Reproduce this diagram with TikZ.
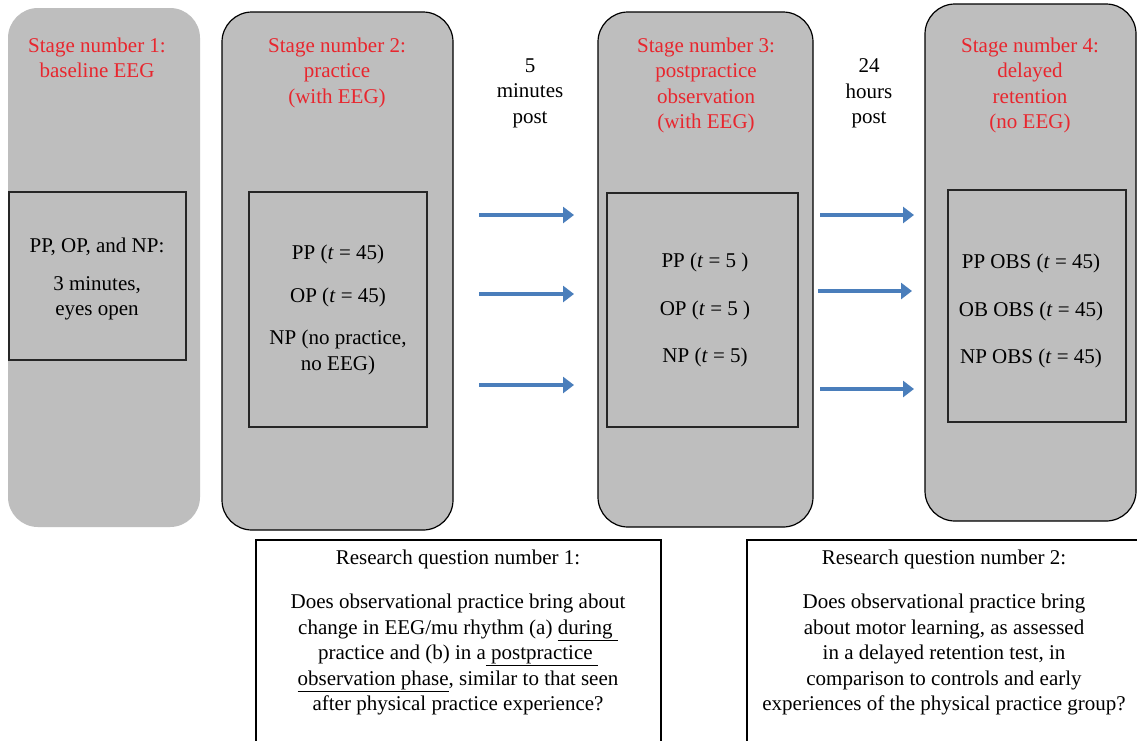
\documentclass[tikz,border=0pt]{standalone}
\usepackage{fontspec}
\setmainfont{Liberation Serif}
\usetikzlibrary{arrows.meta}
\definecolor{stagegray}{RGB}{190,190,190}
\definecolor{stagered}{RGB}{232,38,46}
\definecolor{arrowblue}{RGB}{74,126,187}
\begin{document}
\begin{tikzpicture}[x=1pt,y=-1pt,
  stagebox/.style={rounded corners=30pt, fill=stagegray, draw=black, line width=1.2pt},
  innerbox/.style={draw=black!85, line width=1.2pt, fill=stagegray},
  title/.style={text=stagered, align=center, font=\fontsize{21}{25.5}\selectfont, anchor=north, inner sep=0pt},
  body/.style={align=center, font=\fontsize{21}{25.5}\selectfont, inner sep=0pt},
  flow/.style={draw=arrowblue, line width=3.5pt, -{Triangle[width=16pt,length=11pt]}},
  rqbox/.style={draw=black, line width=1.2pt, fill=white}
]
\useasboundingbox (0,0) rectangle (1137,740);
\fill[white] (0,0) rectangle (1137,740);

% stage boxes
\fill[stagegray, rounded corners=30pt] (8,8) rectangle (200,527);
\path[stagebox] (222,12) rectangle (453,530);
\path[stagebox] (598,12) rectangle (813,527);
\path[stagebox] (925,4) rectangle (1136,521);

% inner boxes
\path[innerbox] (9,192) rectangle (186,360);
\path[innerbox] (249,192) rectangle (427,427);
\path[innerbox] (607,193) rectangle (798,427);
\path[innerbox] (948,190) rectangle (1126,422);

% titles
\node[title] (t1) at (97,37.5) {Stage number 1:\\baseline EEG};
\node[title] (t2) at (337,37.5) {Stage number 2:\\practice\\(with EEG)};
\node[title] (t3) at (706,37.5) {Stage number 3:\\postpractice\\observation\\(with EEG)};
\node[title] (t4) at (1030,37.5) {Stage number 4:\\delayed\\retention\\(no EEG)};

\node[title, text=black] (g1) at (530,58.5) {5\\minutes\\post};
\node[title, text=black] (g2) at (869,58.5) {24\\hours\\post};

% inner contents
\node[body] (c1) at (97,279) {PP, OP, and NP:\\[12.5pt]3 minutes,\\eyes open};
\node[body] (c2) at (338,310) {PP (\textit{t} = 45)\\[17pt]OP (\textit{t} = 45)\\[17pt]NP (no practice,\\no EEG)};
\node[body] (c3) at (705,310) {PP (\textit{t} = 5 )\\[22pt]OP (\textit{t} = 5 )\\[22pt]NP (\textit{t} = 5)};
\node[body] (c4) at (1031,311) {PP OBS (\textit{t} = 45)\\[22pt]OB OBS (\textit{t} = 45)\\[22pt]NP OBS (\textit{t} = 45)};

% arrows
\coordinate (a1s) at (479,215); \coordinate (a1e) at (574,215);
\coordinate (a2s) at (479,294); \coordinate (a2e) at (574,294);
\coordinate (a3s) at (479,385); \coordinate (a3e) at (574,385);
\coordinate (b1s) at (820,215); \coordinate (b1e) at (914,215);
\coordinate (b2s) at (818,291); \coordinate (b2e) at (912,291);
\coordinate (b3s) at (820,389); \coordinate (b3e) at (914,389);
\draw[flow] (a1s) -- (a1e);
\draw[flow] (a2s) -- (a2e);
\draw[flow] (a3s) -- (a3e);
\draw[flow] (b1s) -- (b1e);
\draw[flow] (b2s) -- (b2e);
\draw[flow] (b3s) -- (b3e);

% research questions
\path[rqbox] (256,540) rectangle (661,760);
\path[rqbox] (747,540) rectangle (1150,760);
\node[body, anchor=north] (q1) at (458,550) {Research question number 1:\\[18.5pt]Does observational practice bring about\\change in EEG/mu rhythm (a) \underline{during\ }\\practice and (b) in a\underline{\ postpractice\ }\\\underline{observation phase}, similar to that seen\\after physical practice experience?};
\node[body, anchor=north] (q2) at (944,550) {Research question number 2:\\[18.5pt]Does observational practice bring\\about motor learning, as assessed\\in a delayed retention test, in\\comparison to controls and early\\experiences of the physical practice group?};
\end{tikzpicture}
\end{document}
